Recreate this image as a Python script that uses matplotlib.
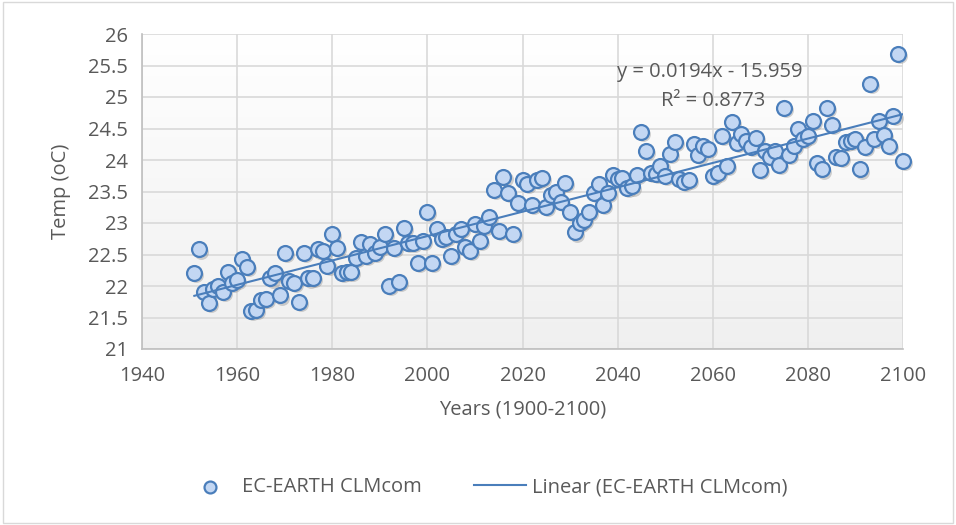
import numpy as np
import matplotlib
matplotlib.use("Agg")
import matplotlib.pyplot as plt
from matplotlib.patches import Rectangle
import matplotlib.transforms as mtransforms

years = list(range(1951, 2101))
temps = [
    22.20, 22.58, 21.90, 21.73, 21.95, 22.00, 21.90, 22.22, 22.05, 22.10,
    22.43, 22.30, 21.60, 21.62, 21.78, 21.80, 22.12, 22.20, 21.85, 22.53,
    22.08, 22.05, 21.74, 22.53, 22.12, 22.13, 22.58, 22.56, 22.32, 22.82,
    22.60, 22.20, 22.22, 22.22, 22.45, 22.70, 22.47, 22.67, 22.52, 22.62,
    22.82, 22.00, 22.60, 22.07, 22.92, 22.68, 22.68, 22.37, 22.72, 23.18,
    22.37, 22.90, 22.75, 22.78, 22.48, 22.82, 22.90, 22.62, 22.55, 22.98,
    22.72, 22.95, 23.10, 23.52, 22.87, 23.73, 23.47, 22.82, 23.32, 23.68,
    23.62, 23.28, 23.68, 23.72, 23.25, 23.45, 23.50, 23.33, 23.63, 23.18,
    22.85, 23.00, 23.05, 23.17, 23.48, 23.62, 23.28, 23.48, 23.76, 23.70,
    23.72, 23.55, 23.58, 23.76, 24.45, 24.15, 23.80, 23.78, 23.90, 23.75,
    24.10, 24.28, 23.70, 23.65, 23.68, 24.26, 24.08, 24.23, 24.18, 23.75,
    23.80, 24.38, 23.90, 24.60, 24.27, 24.42, 24.30, 24.20, 24.35, 23.84,
    24.15, 24.05, 24.15, 23.92, 24.83, 24.08, 24.22, 24.50, 24.33, 24.38,
    24.62, 23.95, 23.85, 24.82, 24.55, 24.05, 24.03, 24.28, 24.30, 24.33,
    23.85, 24.20, 25.20, 24.33, 24.62, 24.40, 24.23, 24.70, 25.68, 23.98,
]
x_ticks = [1940, 1960, 1980, 2000, 2020, 2040, 2060, 2080, 2100]
y_ticks = [21, 21.5, 22, 22.5, 23, 23.5, 24, 24.5, 25, 25.5, 26]
series_name = "EC-EARTH CLMcom"
trend_name = "Linear (EC-EARTH CLMcom)"
eq_text = "y = 0.0194x - 15.959"
r2_text = "R² = 0.8773"

W, H = 956, 525
fig = plt.figure(figsize=(W / 100, H / 100), dpi=100)
plt.rcParams['font.family'] = ['Open Sans', 'DejaVu Sans']
txt_col = '#595959'
fs = 14.5

# outer border
fig.patches.append(Rectangle((0.003, 0.004), 0.994, 0.992, transform=fig.transFigure,
                             fill=False, edgecolor='#d9d9d9', linewidth=1.0))

left, right, top, bottom = 142, 903, 34, 349
ax = fig.add_axes([left / W, 1 - bottom / H, (right - left) / W, (bottom - top) / H])
ax.set_xlim(1940, 2100)
ax.set_ylim(21, 26)

# gradient background
grad = np.linspace(1.0, 0.94, 256).reshape(-1, 1)
ax.imshow(np.dstack([grad, grad, grad]), extent=[1940, 2100, 21, 26], aspect='auto',
          zorder=0, origin='upper')

ax.set_xticks(x_ticks)
ax.set_yticks(y_ticks)
ax.set_yticklabels([f"{v:g}" for v in y_ticks])
ax.grid(True, color='#d9d9d9', linewidth=1.2, zorder=1)
for s in ['top', 'right']:
    ax.spines[s].set_visible(False)
for s in ['left', 'bottom']:
    ax.spines[s].set_color('#bfbfbf')
    ax.spines[s].set_linewidth(1.2)
ax.tick_params(axis='x', length=0, labelsize=fs, colors=txt_col, pad=12)
ax.tick_params(axis='y', length=0, labelsize=fs, colors=txt_col, pad=10)
ax.set_xlabel("Years (1900-2100)", fontsize=fs, color=txt_col, labelpad=10)
ax.set_ylabel("Temp (oC)", fontsize=fs, color=txt_col, labelpad=12)

# shadow
shadow_tr = ax.transData + mtransforms.ScaledTranslation(1.5 / 72, -1.5 / 72, fig.dpi_scale_trans)
ax.scatter(years, temps, s=115, color='#7f7f7f', alpha=0.35, linewidths=0,
           transform=shadow_tr, zorder=2, clip_on=False)
ax.scatter(years, temps, s=115, facecolor='#c3d7f3', edgecolor='#4a7ebb', linewidths=1.6,
           zorder=3, clip_on=False, label=series_name)

coef = np.polyfit(years, temps, 1)
xs = np.array([years[0], years[-1]])
ax.plot(xs, np.polyval(coef, xs), color='#4a7ebb', linewidth=1.5, zorder=4, label=trend_name)

ax.text(2059.4, 25.40, eq_text, fontsize=fs, color=txt_col, ha='center', va='center', zorder=5)
ax.text(2060.0, 24.94, r2_text, fontsize=fs, color=txt_col, ha='center', va='center', zorder=5)

handles, labels = ax.get_legend_handles_labels()
leg = fig.legend(handles, labels, loc='center', bbox_to_anchor=(0.508, 0.072), ncol=2,
                 frameon=False, fontsize=fs, columnspacing=2.6, handlelength=2.6,
                 handletextpad=0.3, markerscale=0.8)
for t in leg.get_texts():
    t.set_color(txt_col)

fig.savefig("out.png", dpi=100)
